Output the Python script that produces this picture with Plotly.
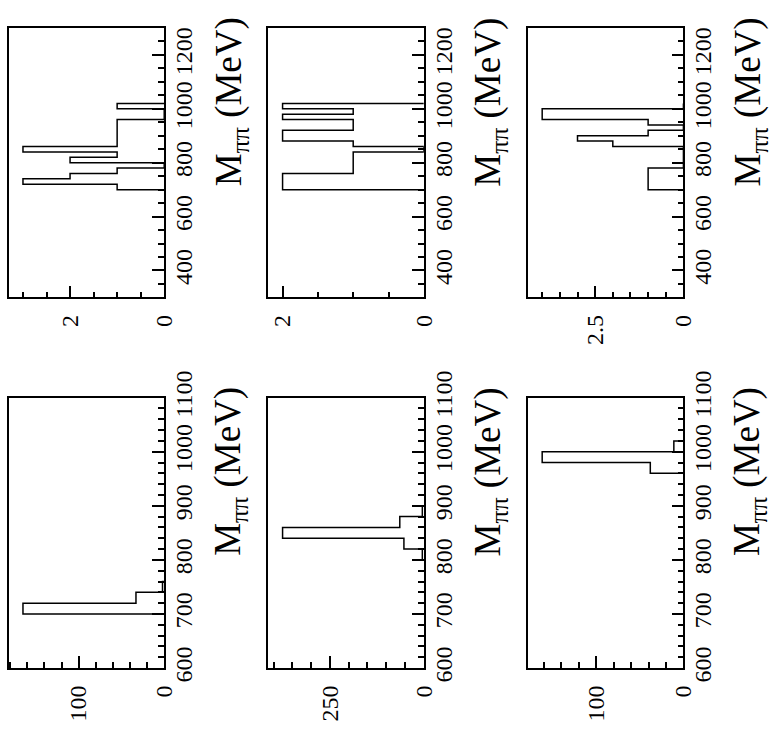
import plotly.graph_objects as go

FONT = "Liberation Serif"

# Bin edges of the M_pipi histograms (MeV)
edges_upper = [700, 720, 740, 760, 780, 800, 820, 840, 860, 880,
               900, 920, 940, 960, 980, 1000, 1020]
edges_d = [700, 720, 740, 760]
edges_e = [800, 820, 840, 860, 880, 900]
edges_f = [960, 980, 1000, 1020]

# Entries per bin
counts_a = [1, 3, 2, 1, 0, 2, 1, 3, 1, 1, 1, 1, 1, 0, 0, 1]
counts_b = [2, 2, 2, 1, 1, 1, 1, 0, 1, 2, 2, 1, 1, 2, 1, 2]
counts_c = [1, 1, 1, 1, 0, 0, 0, 0, 2, 3, 1, 0, 1, 4, 4, 0]
counts_d = [165, 33, 2]
counts_e = [4, 53, 376, 64, 4]
counts_f = [38, 162, 11]

# Count-axis labels
count_ticks_a = [0, 2]
count_ticks_b = [0, 2]
count_ticks_c = [0, 2.5]
count_ticks_d = [0, 100]
count_ticks_e = [0, 250]
count_ticks_f = [0, 100]

W, H = 781, 752
col_px = [(9, 167), (273, 431), (537, 695)]
row_px = [(1, 286), (392, 678)]

panels = [
    # edges, counts, col, row, count ticks, count minor step
    (edges_upper, counts_a, 0, 0, count_ticks_a, 0.5),
    (edges_upper, counts_b, 1, 0, count_ticks_b, 0.5),
    (edges_upper, counts_c, 2, 0, count_ticks_c, 0.5),
    (edges_d, counts_d, 0, 1, count_ticks_d, 20),
    (edges_e, counts_e, 1, 1, count_ticks_e, 50),
    (edges_f, counts_f, 2, 1, count_ticks_f, 20),
]

fig = go.Figure()
layout = dict(
    width=W, height=H,
    margin=dict(l=0, r=0, t=0, b=0),
    paper_bgcolor="white", plot_bgcolor="white",
    showlegend=False,
    font=dict(family=FONT, color="black"),
)
annotations = []

for i, (edges, counts, col, row, cticks, cminor) in enumerate(panels, start=1):
    xs = "" if i == 1 else str(i)
    x0, x1 = col_px[col]
    y0, y1 = row_px[row]
    xdom = [x0 / W, x1 / W]
    ydom = [1 - y1 / H, 1 - y0 / H]

    # outline of the histogram as a step contour
    fig.add_trace(go.Scatter(
        x=[0] + counts + [0],
        y=edges + [edges[-1]],
        mode="lines",
        line=dict(color="black", width=1.5, shape="hv"),
        xaxis="x" + xs, yaxis="y" + xs,
        hoverinfo="skip",
    ))

    cmax = 1.1 * max(counts)
    layout["xaxis" + xs] = dict(
        domain=xdom, anchor="y" + xs,
        range=[cmax, 0],
        showgrid=False, zeroline=False,
        showline=True, mirror=True, linecolor="black", linewidth=1.8,
        ticks="inside", ticklen=12, tickwidth=1.5, tickcolor="black",
        tickvals=cticks, ticktext=[str(v) for v in cticks],
        tickangle=-90,
        tickfont=dict(family=FONT, size=24, color="black"),
        ticklabelstandoff=6,
        minor=dict(dtick=cminor, tick0=0, ticks="inside", ticklen=6,
                   tickwidth=1.5, tickcolor="black"),
    )

    if row == 0:
        mrange = [300, 1300]
        mtick0, mdtick, mminor = 400, 200, 50
    else:
        mrange = [600, 1100]
        mtick0, mdtick, mminor = 600, 100, 20

    layout["yaxis" + xs] = dict(
        domain=ydom, anchor="x" + xs, side="right",
        range=mrange,
        showgrid=False, zeroline=False,
        showline=True, mirror=True, linecolor="black", linewidth=1.8,
        ticks="inside", ticklen=12, tickwidth=1.5, tickcolor="black",
        tickmode="linear", tick0=mtick0, dtick=mdtick,
        tickangle=-90,
        tickfont=dict(family=FONT, size=24, color="black"),
        ticklabelstandoff=-3,
        minor=dict(dtick=mminor, tick0=mrange[0], ticks="inside", ticklen=6,
                   tickwidth=1.5, tickcolor="black"),
    )

    annotations.append(dict(
        text="M<sub>ππ</sub> (MeV)",
        textangle=-90,
        xref="paper", yref="paper",
        x=(x1 + 42) / W, xanchor="left",
        y=1 - (y0 - 13) / H, yanchor="top",
        showarrow=False,
        font=dict(family=FONT, size=37, color="black"),
    ))

layout["annotations"] = annotations
fig.update_layout(**layout)
fig.write_html("out.html")
